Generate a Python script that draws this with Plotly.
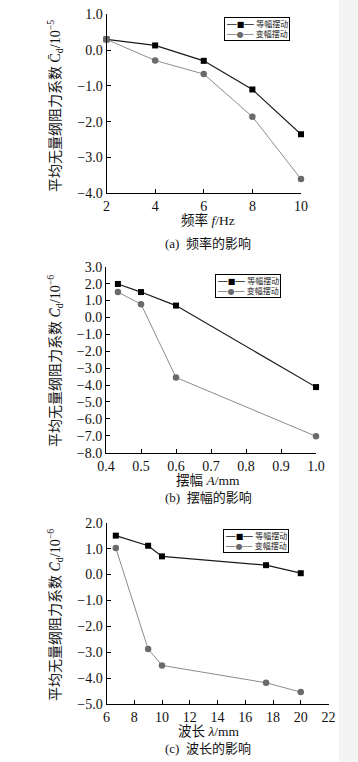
import plotly.graph_objects as go

W, H = 358, 762

# ---- data ----
freq = [2, 4, 6, 8, 10]
freq_equal = [0.30, 0.13, -0.30, -1.10, -2.35]
freq_var = [0.30, -0.29, -0.67, -1.86, -3.60]

amp = [0.434, 0.5, 0.6, 1.0]
amp_equal = [1.98, 1.50, 0.70, -4.12]
amp_var = [1.50, 0.78, -3.55, -7.03]

wave = [6.67, 9, 10, 17.5, 20]
wave_equal = [1.50, 1.11, 0.70, 0.36, 0.05]
wave_var = [1.02, -2.88, -3.51, -4.18, -4.54]

series_names = ["等幅摆动", "变幅摆动"]
x_titles = ["频率 <i>f</i>/Hz", "摆幅 <i>A</i>/mm", "波长 <i>λ</i>/mm"]
captions = ["(a)  频率的影响", "(b)  摆幅的影响", "(c)  波长的影响"]
y_titles = ["平均无量纲阻力系数 C̄<sub>d</sub>/10<sup>−5</sup>",
            "平均无量纲阻力系数 <i>C̄</i><sub>d</sub>/10<sup>−6</sup>",
            "平均无量纲阻力系数 <i>C̄</i><sub>d</sub>/10<sup>−6</sup>"]

FONT = "Liberation Serif, Noto Sans CJK SC, serif"
LEGFONT = "DejaVu Sans, Noto Sans CJK SC, sans-serif"
C_EQ_LINE, C_EQ_MARK = "#1a1a1a", "#000000"
C_VAR_LINE, C_VAR_MARK = "#8c8c8c", "#6a6a6a"


def px_x(v):
    return v / W


def px_y(v):
    return 1 - v / H


# panel geometry in pixels: (x0, x1, ytop, ybottom)
panels = [
    (106.5, 301.0, 14.3, 193.3),
    (106.0, 316.0, 266.7, 452.7),
    (106.5, 328.5, 522.7, 704.0),
]
xranges = [[2, 10], [0.4, 1.0], [6, 22]]
xdticks = [2, 0.1, 2]
yranges = [[-4, 1], [-8, 3], [-5, 2]]
legend_pos = [(224, 17), (215, 274), (223, 529)]
xtitle_y = [220, 480, 731]
caption_y = [243, 497, 748]
ytitle_y = [106, 361, 615]

data = [(freq, freq_equal, freq_var), (amp, amp_equal, amp_var), (wave, wave_equal, wave_var)]

fig = go.Figure()
for i, (xs, ye, yv) in enumerate(data):
    sfx = "" if i == 0 else str(i + 1)
    fig.add_trace(go.Scatter(
        x=xs, y=ye, name=series_names[0], mode="lines+markers",
        line=dict(color=C_EQ_LINE, width=1.2),
        marker=dict(symbol="square", size=6, color=C_EQ_MARK),
        xaxis="x" + sfx, yaxis="y" + sfx, showlegend=False, cliponaxis=False))
    fig.add_trace(go.Scatter(
        x=xs, y=yv, name=series_names[1], mode="lines+markers",
        line=dict(color=C_VAR_LINE, width=1),
        marker=dict(symbol="circle", size=6.5, color=C_VAR_MARK),
        xaxis="x" + sfx, yaxis="y" + sfx, showlegend=False, cliponaxis=False))

layout = dict(
    width=W, height=H,
    margin=dict(l=0, r=0, t=0, b=0, pad=0, autoexpand=False),
    paper_bgcolor="white", plot_bgcolor="white",
    font=dict(family=FONT, size=13, color="#111"),
    showlegend=False,
)

annotations = []
shapes = [dict(type="rect", xref="paper", yref="paper", x0=px_x(339), x1=1, y0=0, y1=1,
               fillcolor="#f4f4f4", line=dict(width=0), layer="below")]

legend_text = (
    f"<span style='color:{C_EQ_MARK}'>──■──</span> {series_names[0]}<br>"
    f"<span style='color:{C_VAR_MARK}'>──●──</span> {series_names[1]}"
)

for i in range(3):
    sfx = "" if i == 0 else str(i + 1)
    x0, x1, yt, yb = panels[i]
    axcommon = dict(showline=True, linecolor="black", linewidth=1, mirror=False,
                    ticks="inside", ticklen=4, tickcolor="black", tickwidth=1,
                    showgrid=False, zeroline=False, automargin=False,
                    tickfont=dict(family=FONT, size=14, color="#111"))
    layout["xaxis" + sfx] = dict(
        domain=[px_x(x0), px_x(x1)], range=xranges[i], dtick=xdticks[i], tick0=xranges[i][0],
        anchor="y" + sfx, tickformat=".1f" if i == 1 else "d", **axcommon)
    layout["yaxis" + sfx] = dict(
        domain=[px_y(yb), px_y(yt)], range=yranges[i], dtick=1, tick0=0,
        anchor="x" + sfx, tickformat=".1f", **axcommon)
    lx, ly = legend_pos[i]
    annotations.append(dict(
        x=px_x(lx), y=px_y(ly), xref="paper", yref="paper", xanchor="left", yanchor="top",
        text=legend_text, showarrow=False, align="left",
        bgcolor="white", bordercolor="black", borderwidth=1, borderpad=1,
        font=dict(family=LEGFONT, size=8, color="#222")))
    annotations.append(dict(x=px_x(208), y=px_y(xtitle_y[i]), xref="paper", yref="paper",
                            xanchor="center", yanchor="middle",
                            text=x_titles[i], showarrow=False,
                            font=dict(family=FONT, size=13.5, color="#111")))
    annotations.append(dict(x=px_x(208), y=px_y(caption_y[i]), xref="paper", yref="paper",
                            xanchor="center", yanchor="middle",
                            text=captions[i], showarrow=False,
                            font=dict(family=FONT, size=13, color="#111")))
    annotations.append(dict(x=px_x(55), y=px_y(ytitle_y[i]), xref="paper", yref="paper",
                            xanchor="center", yanchor="middle",
                            text=y_titles[i], showarrow=False, textangle=-90,
                            font=dict(family=FONT, size=14, color="#111")))

layout["annotations"] = annotations
layout["shapes"] = shapes
fig.update_layout(**layout)
fig.write_html("out.html", config={"displayModeBar": False},
               post_script="document.body.style.margin='0';document.body.style.overflow='hidden';")
